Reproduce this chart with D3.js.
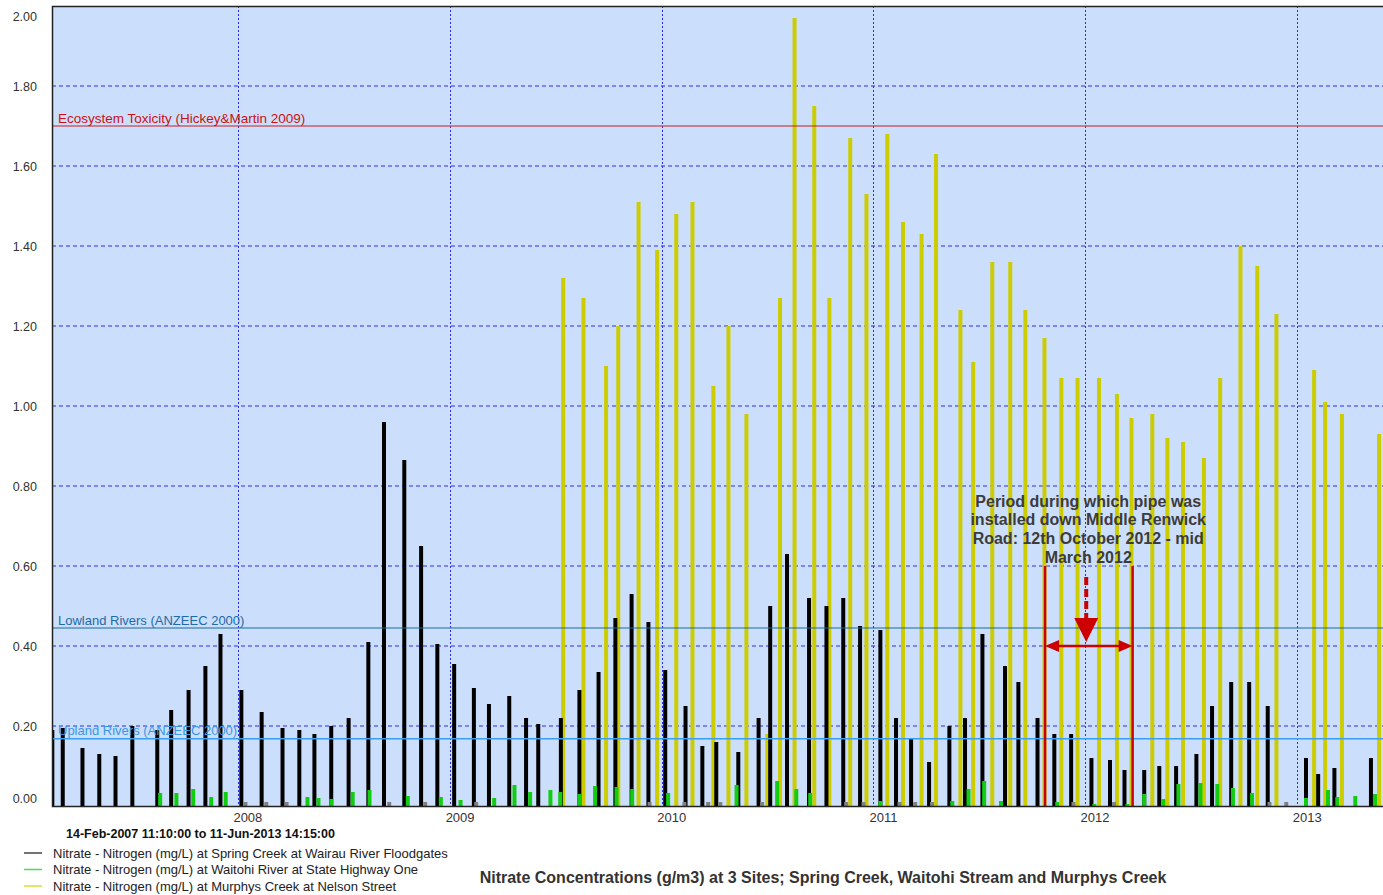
<!DOCTYPE html>
<html>
<head>
<meta charset="utf-8">
<title>Nitrate Concentrations</title>
<script src="https://cdn.jsdelivr.net/npm/d3@7"></script>
<style>
  body { margin: 0; background: #fff; }
  svg text { font-family: "Liberation Sans", Arial, sans-serif; }
</style>
</head>
<body>
<svg id="chart" width="1383" height="895"></svg>
<script>
var nitrate = nitrate || {};

// axis ticks
var y_tick_values = [0, 0.2, 0.4, 0.6, 0.8, 1.0, 1.2, 1.4, 1.6, 1.8, 2.0];
var year_ticks = ["2008-01-01", "2009-01-01", "2010-01-01", "2011-01-01", "2012-01-01", "2013-01-01"];
var year_labels = ["2008", "2009", "2010", "2011", "2012", "2013"];

// Spring Creek at Wairau River Floodgates (black)
var spring_creek_dates = [
  "2007-02-15","2007-03-05","2007-04-08","2007-05-07","2007-06-04","2007-07-03","2007-08-15","2007-09-08","2007-10-08","2007-11-06","2007-12-02",
  "2008-01-07","2008-02-11","2008-03-18","2008-04-16","2008-05-12","2008-06-10","2008-07-10","2008-08-13","2008-09-09","2008-10-14","2008-11-12","2008-12-10",
  "2009-01-08","2009-02-11","2009-03-09","2009-04-13","2009-05-12","2009-06-02","2009-07-11","2009-08-12","2009-09-14","2009-10-13","2009-11-10","2009-12-09",
  "2010-01-07","2010-02-11","2010-03-12","2010-04-05","2010-05-13","2010-06-17","2010-07-07","2010-08-05","2010-09-12","2010-10-12","2010-11-10","2010-12-09",
  "2011-01-13","2011-02-09","2011-03-07","2011-04-07","2011-05-12","2011-06-08","2011-07-08","2011-08-16","2011-09-08","2011-10-11","2011-11-09","2011-12-08",
  "2012-01-12","2012-02-13","2012-03-09","2012-04-12","2012-05-08","2012-06-06","2012-07-11","2012-08-07","2012-09-09","2012-10-10","2012-11-11",
  "2013-01-16","2013-02-06","2013-03-06","2013-05-08"
];
var spring_creek_values = [
  0.19, 0.195, 0.145, 0.13, 0.125, 0.20, 0.19, 0.24, 0.29, 0.35, 0.43,
  0.29, 0.235, 0.195, 0.19, 0.18, 0.20, 0.22, 0.41, 0.96, 0.865, 0.65, 0.405,
  0.355, 0.295, 0.255, 0.275, 0.22, 0.205, 0.22, 0.29, 0.335, 0.47, 0.53, 0.46,
  0.34, 0.25, 0.15, 0.16, 0.135, 0.22, 0.50, 0.63, 0.52, 0.50, 0.52, 0.45,
  0.44, 0.22, 0.17, 0.11, 0.20, 0.22, 0.43, 0.35, 0.31, 0.22, 0.18, 0.18,
  0.12, 0.115, 0.09, 0.09, 0.10, 0.10, 0.13, 0.25, 0.31, 0.31, 0.25,
  0.12, 0.08, 0.095, 0.12
];

// Waitohi River at State Highway One (green)
var waitohi_dates = [
  "2007-08-20","2007-09-17","2007-10-16","2007-11-16","2007-12-11",
  "2008-04-30","2008-05-19","2008-06-10","2008-07-17","2008-08-15","2008-10-20","2008-12-16",
  "2009-01-19","2009-03-18","2009-04-22","2009-05-19","2009-06-23","2009-07-10","2009-08-12","2009-09-08","2009-10-15","2009-11-11",
  "2010-01-12","2010-05-10","2010-07-19","2010-08-21","2010-09-14",
  "2011-01-13","2011-05-17","2011-06-14","2011-07-11","2011-08-09","2011-11-14",
  "2012-01-17","2012-03-14","2012-04-12","2012-05-15","2012-06-10","2012-07-18","2012-08-16","2012-09-12","2012-10-15",
  "2013-01-16","2013-02-23","2013-03-11","2013-04-11","2013-05-15"
];
var waitohi_values = [
  0.0325, 0.0325, 0.0425, 0.0225, 0.035,
  0.0225, 0.02, 0.0175, 0.035, 0.04, 0.025, 0.0225,
  0.015, 0.02, 0.0525, 0.035, 0.04, 0.035, 0.03, 0.05, 0.0475, 0.0425,
  0.0325, 0.0525, 0.0625, 0.0425, 0.0325,
  0.0125, 0.0125, 0.0425, 0.0625, 0.0125, 0.01,
  0.005, 0.005, 0.03, 0.0175, 0.055, 0.0575, 0.055, 0.045, 0.0325,
  0.02, 0.04, 0.0225, 0.025, 0.03
];

// Murphys Creek at Nelson Street (yellow)
var murphys_dates = [
  "2009-07-15","2009-08-19","2009-09-27","2009-10-18","2009-11-22","2009-12-24",
  "2010-01-26","2010-02-23","2010-03-31","2010-04-26","2010-05-27","2010-07-02","2010-07-24","2010-08-18","2010-09-21","2010-10-17","2010-11-22","2010-12-20",
  "2011-01-25","2011-02-21","2011-03-25","2011-04-19","2011-05-31","2011-06-22","2011-07-25","2011-08-25","2011-09-20","2011-10-23","2011-11-21","2011-12-19",
  "2012-01-25","2012-02-25","2012-03-21","2012-04-26","2012-05-22","2012-06-18","2012-07-24","2012-08-21","2012-09-25","2012-10-24","2012-11-26",
  "2013-01-30","2013-02-18","2013-03-19","2013-05-22"
];
var murphys_values = [
  1.32, 1.27, 1.10, 1.20, 1.51, 1.39,
  1.48, 1.51, 1.05, 1.20, 0.98, 0.18, 1.27, 1.97, 1.75, 1.27, 1.67, 1.53,
  1.68, 1.46, 1.43, 1.63, 1.24, 1.11, 1.36, 1.36, 1.24, 1.17, 1.07, 1.07,
  1.07, 1.03, 0.97, 0.98, 0.92, 0.91, 0.87, 1.07, 1.40, 1.35, 1.23,
  1.09, 1.01, 0.98, 0.93
];

// small grey stubs near zero
var trace_dates = [
  "2008-01-14","2008-02-19","2008-03-25","2008-09-18","2008-11-19","2009-02-15","2009-12-11",
  "2010-02-09","2010-03-22","2010-04-12","2010-06-23","2010-11-15","2010-12-15",
  "2011-02-15","2011-03-14","2011-04-12","2011-12-12","2012-02-20","2012-11-14","2012-12-13"
];
var trace_values = [0.01,0.01,0.01,0.01,0.01,0.01,0.01,0.01,0.01,0.01,0.01,0.01,0.01,0.01,0.01,0.01,0.01,0.01,0.01,0.01];

// guideline levels
var guide_values = [1.70, 0.445, 0.168];
var guide_labels = ["Ecosystem Toxicity (Hickey&Martin 2009)", "Lowland Rivers (ANZEEC 2000)", "Upland Rivers (ANZEEC 2000)"];

var legend_labels = [
  "Nitrate - Nitrogen (mg/L) at Spring Creek at Wairau River Floodgates",
  "Nitrate - Nitrogen (mg/L) at Waitohi River at State Highway One",
  "Nitrate - Nitrogen (mg/L) at Murphys Creek at Nelson Street"
];
var range_label = "14-Feb-2007 11:10:00 to 11-Jun-2013 14:15:00";
var chart_title = "Nitrate Concentrations (g/m3) at 3 Sites; Spring Creek, Waitohi Stream and Murphys Creek";

var pipe_note = ["Period during which pipe was", "installed down Middle Renwick", "Road: 12th October 2012 - mid", "March 2012"];
var pipe_period = ["2011-10-24", "2012-03-23"];
var pipe_marker = "2012-01-03";

nitrate.painter = function() {
    'use strict';

    var parse = d3.timeParse("%Y-%m-%d");
    var left = 52, right = 1391, top = 6, bottom = 806;

    var x = d3.scaleTime()
        .domain([new Date(2007, 1, 14, 11, 10), new Date(2013, 5, 11, 14, 15)])
        .range([left, right]);
    var y = d3.scaleLinear().domain([0, 2]).range([bottom, top]);

    function pair_up(dates, values) {
        return dates.map(function(d, i) { return { date: parse(d), value: values[i] }; });
    }

    function draw_bars(layer, dates, values, color) {
        layer.append("g").selectAll("rect")
            .data(pair_up(dates, values))
            .enter()
            .append("rect")
            .attr("x", function(d) { return x(d.date) - 2; })
            .attr("y", function(d) { return y(d.value); })
            .attr("width", 4)
            .attr("height", function(d) { return bottom - y(d.value); })
            .attr("fill", color);
    }

    function draw_grid(svg) {
        svg.append("g").selectAll("line")
            .data(y_tick_values.slice(1, -1))
            .enter().append("line")
            .attr("x1", left).attr("x2", right)
            .attr("y1", function(v) { return y(v); })
            .attr("y2", function(v) { return y(v); })
            .attr("stroke", "#2b2bf0")
            .attr("stroke-width", 1)
            .attr("stroke-dasharray", "4,3");

        svg.append("g").selectAll("line")
            .data(year_ticks.map(parse))
            .enter().append("line")
            .attr("x1", function(d) { return Math.round(x(d)) + 0.5; })
            .attr("x2", function(d) { return Math.round(x(d)) + 0.5; })
            .attr("y1", top).attr("y2", bottom)
            .attr("stroke", "#2b2bf0")
            .attr("stroke-width", 1)
            .attr("stroke-dasharray", "2,2");
    }

    function draw_axes(svg) {
        svg.append("g").selectAll("text")
            .data(y_tick_values)
            .enter().append("text")
            .attr("x", 37)
            .attr("y", function(v) { return Math.max(top + 10, Math.min(bottom - 8, y(v))) + 4.5; })
            .attr("text-anchor", "end")
            .attr("font-size", 12.5)
            .attr("fill", "#333")
            .text(function(v) { return d3.format(".2f")(v); });

        svg.append("g").selectAll("text")
            .data(year_ticks)
            .enter().append("text")
            .attr("x", function(d) { return x(parse(d)) + 10; })
            .attr("y", 821.5)
            .attr("text-anchor", "middle")
            .attr("font-size", 13)
            .attr("fill", "#333")
            .text(function(d, i) { return year_labels[i]; });

        svg.append("path")
            .attr("d", "M" + right + "," + (top + 0.5) + "H" + (left + 0.5) + "V" + (bottom + 0.5) + "H" + right)
            .attr("fill", "none")
            .attr("stroke", "#222")
            .attr("stroke-width", 1.5);
    }

    function draw_guides(svg) {
        var colors = ["#c81e1e", "#1b6a9c", "#3d9df0"];
        var text_colors = ["#cc1111", "#1f6aa8", "#3a97e6"];
        var widths = [1, 1, 1.5];
        var sizes = [13.5, 13, 13];
        var g = svg.append("g");
        guide_values.forEach(function(v, i) {
            g.append("line")
                .attr("x1", left).attr("x2", right)
                .attr("y1", y(v)).attr("y2", y(v))
                .attr("stroke", colors[i])
                .attr("stroke-width", widths[i]);
            g.append("text")
                .attr("x", 58)
                .attr("y", y(v) - 3.5)
                .attr("font-size", sizes[i])
                .attr("fill", text_colors[i])
                .text(guide_labels[i]);
        });
    }

    function draw_pipe_note(svg) {
        var red = "#cc0000";
        var g = svg.append("g");
        var x0 = x(parse(pipe_period[0])), x1 = x(parse(pipe_period[1]));
        var xm = x(parse(pipe_marker));
        var ya = y(0.40);

        [x0, x1].forEach(function(px) {
            g.append("line")
                .attr("x1", px).attr("x2", px)
                .attr("y1", y(0.60)).attr("y2", bottom)
                .attr("stroke", red).attr("stroke-width", 2.5);
        });

        g.append("line")
            .attr("x1", x0 + 10).attr("x2", x1 - 10)
            .attr("y1", ya).attr("y2", ya)
            .attr("stroke", red).attr("stroke-width", 2.5);
        g.append("path")
            .attr("d", "M" + x0 + "," + ya + "l14,-6v12z")
            .attr("fill", red);
        g.append("path")
            .attr("d", "M" + x1 + "," + ya + "l-14,-6v12z")
            .attr("fill", red);

        g.append("line")
            .attr("x1", xm).attr("x2", xm)
            .attr("y1", y(0.5725)).attr("y2", y(0.47))
            .attr("stroke", red).attr("stroke-width", 4)
            .attr("stroke-dasharray", "8,4");
        g.append("path")
            .attr("d", "M" + (xm - 12) + "," + y(0.47) + "H" + (xm + 12) + "L" + xm + "," + y(0.41) + "z")
            .attr("fill", red);

        g.append("g").selectAll("text")
            .data(pipe_note)
            .enter().append("text")
            .attr("x", xm + 2)
            .attr("y", function(d, i) { return 506.5 + i * 18.8; })
            .attr("text-anchor", "middle")
            .attr("font-size", 16)
            .attr("font-weight", "bold")
            .attr("fill", "#3c3c3c")
            .text(function(d) { return d; });
    }

    function draw_legend(svg) {
        var colors = ["#444", "#4cdc4c", "#dcdc30"];
        var g = svg.append("g");
        g.append("text")
            .attr("x", 66).attr("y", 837.5)
            .attr("font-size", 12.5)
            .attr("font-weight", "bold")
            .attr("fill", "#111")
            .text(range_label);

        legend_labels.forEach(function(label, i) {
            var cy = 853 + i * 16.5;
            g.append("line")
                .attr("x1", 24).attr("x2", 42)
                .attr("y1", cy).attr("y2", cy)
                .attr("stroke", colors[i]).attr("stroke-width", 1.5);
            g.append("text")
                .attr("x", 53).attr("y", cy + 4.5)
                .attr("font-size", 13)
                .attr("fill", "#222")
                .text(label);
        });

        svg.append("text")
            .attr("x", 823).attr("y", 882.5)
            .attr("text-anchor", "middle")
            .attr("font-size", 16)
            .attr("font-weight", "bold")
            .attr("fill", "#333")
            .text(chart_title);
    }

    return {
        apply_to_page: function() {
            var svg = d3.select("#chart");

            svg.append("defs").append("clipPath").attr("id", "plot-clip")
                .append("rect")
                .attr("x", left).attr("y", top)
                .attr("width", right - left).attr("height", bottom - top);

            svg.append("rect")
                .attr("x", left).attr("y", top)
                .attr("width", right - left).attr("height", bottom - top)
                .attr("fill", "#cbdffc");

            draw_grid(svg);

            var bars = svg.append("g").attr("clip-path", "url(#plot-clip)");
            draw_bars(bars, murphys_dates, murphys_values, "#cccc00");
            draw_bars(bars, spring_creek_dates, spring_creek_values, "#000");
            draw_bars(bars, trace_dates, trace_values, "#808080");
            draw_bars(bars, waitohi_dates, waitohi_values, "#11cc11");

            draw_guides(svg);
            draw_pipe_note(svg);
            draw_axes(svg);
            draw_legend(svg);
        }
    };
};

nitrate.painter().apply_to_page();
</script>
</body>
</html>
